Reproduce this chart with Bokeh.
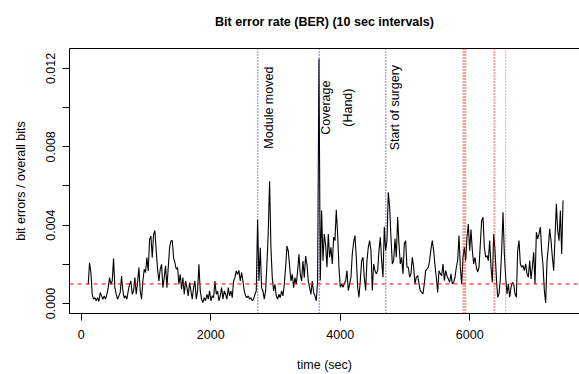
import numpy as np
from bokeh.plotting import figure
from bokeh.models import Span, FixedTicker, LinearAxis, Range1d, ColumnDataSource, PrintfTickFormatter
from bokeh.core.properties import value
from bokeh.embed import file_html
from bokeh.resources import INLINE

# ---- data ----
t_start = 108.0      # seconds, first sample
t_step = 20.6        # seconds between read samples
# bit error rate in units of 1e-4 (bit errors / overall bits)
ber_part1 = [
    9.8, 20.8, 15.8, 4.7, 2.2, 3, 1.4, 3, 1, 5.6,
    3.9, 2.2, 3.9, 2.2, 4.7, 8.1, 13.2, 9.8, 11.5, 23,
    8.1, 4.7, 2.2, 3.9, 5.6, 14, 6.4, 2.7, 3.9, 2.2,
    6.4, 9.8, 11.5, 4.7, 6.4, 13.2, 4.7, 10.7, 18.3, 6.4,
    2.2, 11.5, 17.5, 15.8, 23.4, 16.6, 32.7, 34.4, 23.4, 35.3,
    37.3, 26.8, 17.5, 11.5, 17.5, 20, 8.1, 13.2, 19.2, 8.1,
    18.3, 28.5, 31.9, 32.2, 23.4, 20.8, 17.5, 18.3, 9.8, 14.9,
    7.3, 13.2, 4.7, 11.5, 8.1, 3.9, 10.7, 6.4, 2.2, 8.1,
    11.5, 2.2, 6.4, 20, 6.4, 2.2, 0.5, 3, 1.4, 4.7,
]
ber_part2 = [
    2.2, 6.4, 1.4, 3.9, 3, 11.5, 4.7, 6.4, 1.4, 3.9,
    8.1, 2.2, 6.4, 4.7, 2.2, 8.1, 3.9, 6.4, 3, 11.5,
    13.2, 16.6, 14.9, 16.9, 11.5, 15.8, 11.5, 6.4, 3.9, 3,
    3.9, 2.2, 3, 1.4, 2.2, 4.7, 6.4, 42.9, 11.5, 28.5,
    8.1, 6.4, 2.2, 6.4, 20, 36.9, 62.4, 28.5, 13.2, 6.4,
    9.8, 3.9, 2.2, 4.7, 3, 6.4, 3.9, 9.8, 18.3, 29.3,
    26.8, 19.2, 11.5, 14.9, 8.1, 13.2, 9.8, 16.6, 25.1, 14.9,
    11.5, 21.7, 13.2, 24.2, 20, 11.5, 8.1, 4.7, 11.5, 5.6,
    3.9, 1.4, 11.5, 125, 11.7,
]
ber_part3 = [
    47.5, 21.9, 35.5, 30, 18.5, 35.5, 23.6, 28.7, 20.2, 33.8,
    32.1, 47.8, 35.5, 18.5, 8.3, 10, 8.3, 10, 11.7, 16.8,
    6.6, 10, 13.4, 25.3, 31.2, 34.7, 23.6, 8.3, 3.2, 11.7,
    21.9, 23.6, 13.4, 6.6, 21.9, 28.7, 32.1, 27, 6.6, 20.2,
    16.8, 15.1, 16.8, 27, 33.8, 21.9, 13.4, 39, 27, 32.1,
    56.8, 49.2, 33.8, 20.2, 21.9, 33, 23.6, 44.1, 30.4, 20.2,
    23.6, 15.1, 30.4, 32.1, 18.5, 18.5, 13.4, 15.1, 23.6, 18.5,
    10, 13.4, 14.2, 10, 6.6, 5.7, 4.9, 10, 16.8, 17.6,
    18.5, 21.9, 27.9, 32.1, 27, 19.4, 13.4, 5.7, 16.8, 15.1,
]
ber_part4 = [
    14.2, 20.2, 11.7, 16.8, 14.2, 12.5, 10.8, 15.1, 10, 10.8,
    13.4, 18.5, 21.9, 34.7, 18.5, 10, 23.6, 28.7, 21.9, 33.8,
    40.6, 27, 37.7, 27, 20.2, 23.6, 18.5, 16, 18.5, 30.4,
    42.4, 44.1, 28.7, 23.6, 24.5, 21.9, 32.1, 18.5, 10.8, 35.5,
    27, 13.4, 3.2, 4.9, 12.5, 27, 46.6, 25.3, 13.4, 4.9,
    10, 3.2, 8.3, 10.8, 10, 4.9, 3.2, 27, 32.1, 20.2,
    18.5, 19.4, 16.8, 20.2, 15.1, 13.4, 21.9, 12.5, 18.5, 26.2,
    10, 36.4, 33, 35.5, 39, 27, 19.4, 6.6, 0.3, 21.9,
    28.7, 38.1, 32.1, 23.6, 16.8, 33.8, 50.9, 37.2, 32.1, 47.5,
    25.3, 52.6,
]

blue_events = [2727, 3676, 4704]                      # seconds
red_events = [5896, 5910, 5925, 5937, 6375, 6390, 6556]  # seconds
threshold = 0.001

label_text = ["Module moved", "Coverage", "(Hand)", "Start of surgery"]
label_t = [2893, 3773, 4120, 4854]
label_y = [0.010, 0.010, 0.010, 0.010]

x_ticks = [0, 2000, 4000, 6000]
y_ticks = [0.000, 0.004, 0.008, 0.012]
y_minor = [0.002, 0.006, 0.010]

title = "Bit error rate (BER) (10 sec intervals)"
x_label = "time (sec)"
y_label = "bit errors / overall bits"

# ---- build ----
ber = np.array(ber_part1 + ber_part2 + ber_part3 + ber_part4) * 1e-4
t = t_start + t_step * np.arange(len(ber))

FONT = "Liberation Sans"

p = figure(width=579, height=374, output_backend="svg", toolbar_location=None,
           x_range=Range1d(-181, 7696), y_range=Range1d(-0.000511, 0.01302),
           min_border_left=69, min_border_right=0, min_border_top=48, min_border_bottom=61,
           x_axis_type=None, y_axis_type=None)
p.outline_line_color = None
p.grid.visible = False
p.background_fill_color = "white"
p.border_fill_color = "white"
p.title.visible = False

xaxis = LinearAxis(ticker=FixedTicker(ticks=x_ticks), formatter=PrintfTickFormatter(format="%d"))
yaxis = LinearAxis(ticker=FixedTicker(ticks=y_ticks, minor_ticks=y_minor),
                   formatter=PrintfTickFormatter(format="%.3f"))
for ax in (xaxis, yaxis):
    ax.axis_line_color = "black"
    ax.major_tick_line_color = "black"
    ax.major_tick_out = 7
    ax.major_tick_in = 0
    ax.major_label_text_font = FONT
    ax.major_label_text_font_size = "12.5px"
    ax.major_label_text_color = "black"
    ax.axis_label_text_font = FONT
    ax.axis_label_text_font_size = "12.5px"
    ax.axis_label_text_font_style = "normal"
    ax.axis_label_text_color = "black"
xaxis.minor_tick_line_color = None
xaxis.axis_label = x_label
xaxis.major_label_standoff = 9
xaxis.axis_label_standoff = 16
yaxis.minor_tick_line_color = "black"
yaxis.minor_tick_out = 7
yaxis.minor_tick_in = 0
yaxis.axis_label = y_label
yaxis.major_label_orientation = "vertical"
yaxis.major_label_standoff = 7
yaxis.axis_label_standoff = 16
p.add_layout(xaxis, "below")
p.add_layout(yaxis, "left")

# top border line of the plot box, carrying the main title as its label
top_axis = LinearAxis(ticker=FixedTicker(ticks=[]), axis_line_color="black",
                      major_tick_line_color=None, minor_tick_line_color=None,
                      major_tick_out=0, major_tick_in=0, major_label_standoff=0,
                      major_label_text_font_size="0px",
                      axis_label=title, axis_label_standoff=20,
                      axis_label_text_font=FONT, axis_label_text_font_size="12.5px",
                      axis_label_text_font_style="bold", axis_label_text_color="black")
p.add_layout(top_axis, "above")

src = ColumnDataSource(dict(t=t, ber=ber))
p.line("t", "ber", source=src, line_color="black", line_width=1.1)

p.add_layout(Span(location=threshold, dimension="width", line_color="red",
                  line_dash="4 4", line_width=1))
for ev in blue_events:
    p.add_layout(Span(location=ev, dimension="height", line_color="blue",
                      line_dash="1 2", line_width=1))
for ev in red_events:
    p.add_layout(Span(location=ev, dimension="height", line_color="red",
                      line_dash="1 2", line_width=1, line_alpha=0.8))

lsrc = ColumnDataSource(dict(x=label_t, y=label_y, text=label_text))
p.text("x", "y", text="text", source=lsrc, angle=np.pi / 2, text_align="center",
       text_baseline="middle", text_font=value(FONT), text_font_size="12.5px",
       text_color="black")

open("out.html", "w").write(file_html(p, INLINE))
